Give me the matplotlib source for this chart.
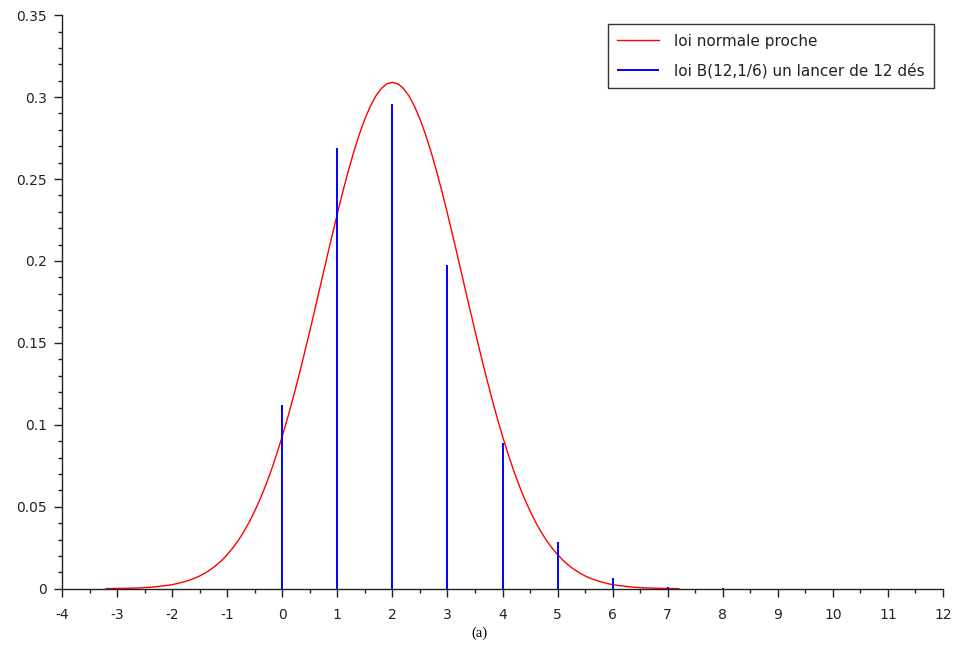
import numpy as np
import matplotlib.pyplot as plt
from matplotlib.ticker import MultipleLocator

# binomial B(12, 1/6) probabilities
k = [0, 1, 2, 3, 4, 5, 6, 7, 8, 9, 10, 11, 12]
pk = [0.1122, 0.2692, 0.2961, 0.1974, 0.0888, 0.0284, 0.0066,
      0.0013, 0.0002, 0.00002, 0.0, 0.0, 0.0]

# close normal density
xn = [-3.2, -3.1, -3.0, -2.9, -2.8, -2.7, -2.6, -2.5, -2.4, -2.3, -2.2,
      -2.1, -2.0, -1.9, -1.8, -1.7, -1.6, -1.5, -1.4, -1.3, -1.2, -1.1,
      -1.0, -0.9, -0.8, -0.7, -0.6, -0.5, -0.4, -0.3, -0.2, -0.1, 0.0,
      0.1, 0.2, 0.3, 0.4, 0.5, 0.6, 0.7, 0.8, 0.9, 1.0, 1.1, 1.2, 1.3,
      1.4, 1.5, 1.6, 1.7, 1.8, 1.9, 2.0, 2.1, 2.2, 2.3, 2.4, 2.5, 2.6,
      2.7, 2.8, 2.9, 3.0, 3.1, 3.2, 3.3, 3.4, 3.5, 3.6, 3.7, 3.8, 3.9,
      4.0, 4.1, 4.2, 4.3, 4.4, 4.5, 4.6, 4.7, 4.8, 4.9, 5.0, 5.1, 5.2,
      5.3, 5.4, 5.5, 5.6, 5.7, 5.8, 5.9, 6.0, 6.1, 6.2, 6.3, 6.4, 6.5,
      6.6, 6.7, 6.8, 6.9, 7.0, 7.1, 7.2]
yn = [0.0001, 0.0001, 0.0002, 0.0002, 0.0003, 0.0004, 0.0005, 0.0007,
      0.0009, 0.0012, 0.0016, 0.0020, 0.0025, 0.0032, 0.0041, 0.0051,
      0.0063, 0.0078, 0.0096, 0.0118, 0.0143, 0.0173, 0.0208, 0.0248,
      0.0294, 0.0347, 0.0407, 0.0474, 0.0549, 0.0632, 0.0723, 0.0823,
      0.0931, 0.1046, 0.1169, 0.1298, 0.1434, 0.1573, 0.1716, 0.1861,
      0.2006, 0.2149, 0.2289, 0.2424, 0.2550, 0.2668, 0.2774, 0.2867,
      0.2945, 0.3008, 0.3053, 0.3081, 0.3090, 0.3081, 0.3053, 0.3008,
      0.2945, 0.2867, 0.2774, 0.2668, 0.2550, 0.2424, 0.2289, 0.2149,
      0.2006, 0.1861, 0.1716, 0.1573, 0.1434, 0.1298, 0.1169, 0.1046,
      0.0931, 0.0823, 0.0723, 0.0632, 0.0549, 0.0474, 0.0407, 0.0347,
      0.0294, 0.0248, 0.0208, 0.0173, 0.0143, 0.0118, 0.0096, 0.0078,
      0.0063, 0.0051, 0.0041, 0.0032, 0.0025, 0.0020, 0.0016, 0.0012,
      0.0009, 0.0007, 0.0005, 0.0004, 0.0003, 0.0002, 0.0002, 0.0001,
      0.0001]

xticks = list(range(-4, 13))
yticks = [0, 0.05, 0.1, 0.15, 0.2, 0.25, 0.3, 0.35]

plt.rcParams['font.family'] = ['DejaVu Sans']

fig = plt.figure(figsize=(9.59, 6.54), dpi=100)
ax = fig.add_axes([0.0647, 0.0998, 0.9186, 0.877])

ax.plot(xn, yn, color="#ff0000", lw=1.0, label="loi normale proche")
ax.vlines(k, 0, pk, color="#0000ff", lw=1.4, label="loi B(12,1/6) un lancer de 12 dés")

ax.set_xlim(-4, 12)
ax.set_ylim(0, 0.35)
ax.set_xticks(xticks)
ax.set_xticklabels([str(t) for t in xticks])
ax.set_yticks(yticks)
ax.set_yticklabels(["%g" % t for t in yticks])
ax.xaxis.set_minor_locator(MultipleLocator(0.5))
ax.yaxis.set_minor_locator(MultipleLocator(0.01))

for s in ["top", "right"]:
    ax.spines[s].set_visible(False)
for s in ["left", "bottom"]:
    ax.spines[s].set_linewidth(1.0)
    ax.spines[s].set_color("#222222")

ax.tick_params(which="major", length=6, width=1, color="#222222",
               labelsize=10, labelcolor="#222222")
ax.tick_params(axis="x", which="major", pad=8)
ax.tick_params(axis="y", which="major", pad=5)
ax.tick_params(which="minor", length=3, width=1, color="#222222")

leg = ax.legend(loc="upper right", bbox_to_anchor=(1.0, 1.0),
                fontsize=11, frameon=True, fancybox=False,
                edgecolor="black", borderpad=0.6, labelspacing=0.96,
                handlelength=2.75, handletextpad=1.0, borderaxespad=0.6)
leg.get_frame().set_linewidth(1.0)
for t in leg.get_texts():
    t.set_color("#222222")

fig.text(0.5, 0.032, "(a)", ha="center", va="center",
         family="Liberation Serif", fontsize=10.5)

fig.savefig("out.png", dpi=100)
